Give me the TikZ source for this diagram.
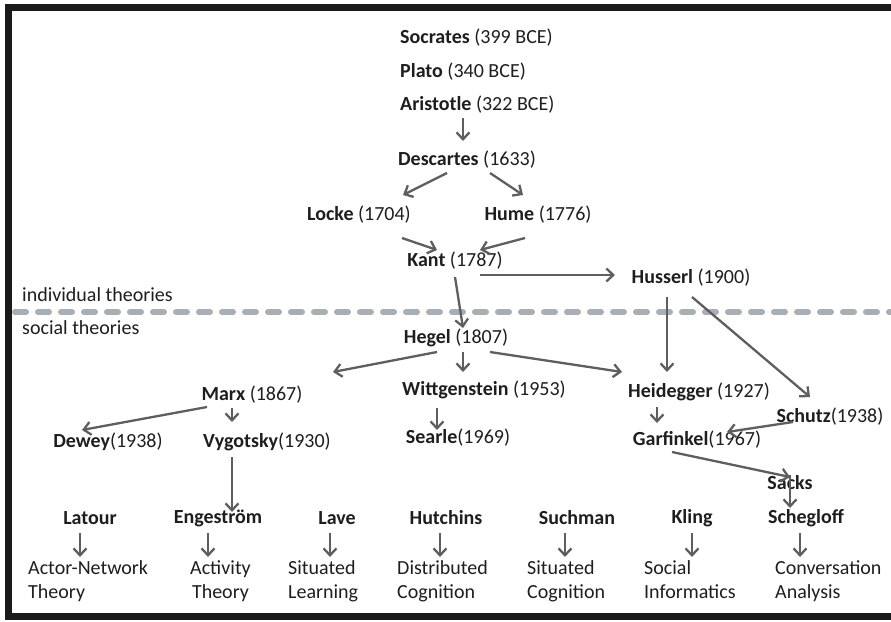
\documentclass[tikz,border=0pt]{standalone}
\usepackage{fontspec}
\setmainfont{Carlito}
\usetikzlibrary{arrows.meta}
\definecolor{txt}{HTML}{1E1E1E}
\definecolor{arrc}{HTML}{5E5E5E}
\definecolor{dashc}{HTML}{A8AEB3}
\definecolor{framec}{HTML}{1A1A1A}
\begin{document}
\begin{tikzpicture}[x=1pt,y=-1pt,
  lbl/.style={inner sep=0pt, text=txt, font=\fontsize{20}{24}\selectfont},
  arr/.style={draw=arrc, line width=2.3pt, -{Straight Barb[length=7pt,width=13pt]}},
  theo/.style={lbl, anchor=west, align=left}]
\useasboundingbox (0,0) rectangle (891,621);
\fill[white] (0,0) rectangle (891,621);
\draw[framec, line width=7pt] (8,7.5) rectangle (905,616);
% separator
\draw[dashc, line width=6pt, line cap=round, dash pattern=on 11pt off 12pt] (15,312) -- (891,312);
\node[lbl, anchor=west] (indiv) at (22,295) {individual theories};
\node[lbl, anchor=west] (social) at (22,328) {social theories};
% philosophers
\node[lbl, anchor=west] (soc) at (400,38) {\textbf{Socrates} (399 BCE)};
\node[lbl, anchor=west] (plato) at (400,72) {\textbf{Plato} (340 BCE)};
\node[lbl, anchor=west] (arist) at (400,105) {\textbf{Aristotle} (322 BCE)};
\node[lbl] (desc) at (467,160) {\textbf{Descartes} (1633)};
\node[lbl] (locke) at (359,215) {\textbf{Locke} (1704)};
\node[lbl] (hume) at (538,215) {\textbf{Hume} (1776)};
\node[lbl] (kant) at (455,261) {\textbf{Kant} (1787)};
\node[lbl] (huss) at (691,278) {\textbf{Husserl} (1900)};
\node[lbl] (hegel) at (456,338) {\textbf{Hegel} (1807)};
\node[lbl] (marx) at (252,395) {\textbf{Marx} (1867)};
\node[lbl] (witt) at (484,390) {\textbf{Wittgenstein} (1953)};
\node[lbl] (heid) at (699,392) {\textbf{Heidegger} (1927)};
\node[lbl] (dewey) at (108,442) {\textbf{Dewey}(1938)};
\node[lbl] (vyg) at (267,442) {\textbf{Vygotsky}(1930)};
\node[lbl] (searle) at (458,438) {\textbf{Searle}(1969)};
\node[lbl] (schutz) at (830,417) {\textbf{Schutz}(1938)};
\node[lbl] (garf) at (697,440) {\textbf{Garfinkel}(1967)};
\node[lbl] (sacks) at (790,483) {\textbf{Sacks}};
% bottom row
\node[lbl] (latour) at (90,518) {\textbf{Latour}};
\node[lbl] (enge) at (218,518) {\textbf{Engeström}};
\node[lbl] (lave) at (337,518) {\textbf{Lave}};
\node[lbl] (hutch) at (446,518) {\textbf{Hutchins}};
\node[lbl] (such) at (577,518) {\textbf{Suchman}};
\node[lbl] (kling) at (692,518) {\textbf{Kling}};
\node[lbl] (scheg) at (806,518) {\textbf{Schegloff}};
\node[theo] (ant) at (28,582) {\strut Actor-Network\\Theory\strut};
\node[theo, align=center] (act) at (190,582) {\strut Activity\\Theory\strut};
\node[theo] (sl) at (288,582) {\strut Situated\\Learning\strut};
\node[theo] (dc) at (397,582) {\strut Distributed\\Cognition\strut};
\node[theo] (sc) at (527,582) {\strut Situated\\Cognition\strut};
\node[theo] (si) at (644,582) {\strut Social\\Informatics\strut};
\node[theo] (ca) at (775,582) {\strut Conversation\\Analysis\strut};
% connectors
\draw[arr] ([shift={(63,13)}]arist.west) -- ([shift={(-4,-19)}]desc.center);
\draw[arr] ([shift={(-20,13)}]desc.center) -- ([shift={(44,-20)}]locke.center);
\draw[arr] ([shift={(23,13)}]desc.center) -- ([shift={(-15,-20)}]hume.center);
\draw[arr] ([shift={(43,23)}]locke.center) -- ([shift={(-18,-11)}]kant.center);
\draw[arr] ([shift={(-13,23)}]hume.center) -- ([shift={(25,-11)}]kant.center);
\draw[arr] ([shift={(25,14)}]kant.center) -- ([shift={(-76,-3)}]huss.center);
\draw[arr] ([shift={(0,16)}]kant.center) -- ([shift={(7,-10)}]hegel.center);
\draw[arr] ([shift={(-19,14)}]hegel.center) -- ([shift={(81,-23)}]marx.center);
\draw[arr] ([shift={(7,14)}]hegel.center) -- ([shift={(-21,-18)}]witt.center);
\draw[arr] ([shift={(34,14)}]hegel.center) -- ([shift={(-77,-20)}]heid.center);
\draw[arr] ([shift={(-47,18)}]witt.center) -- ([shift={(-21,-8)}]searle.center);
\draw[arr] ([shift={(-24,19)}]huss.center) -- ([shift={(-32,-20)}]heid.center);
\draw[arr] ([shift={(1,19)}]huss.center) -- ([shift={(-20,-20)}]schutz.center);
\draw[arr] ([shift={(-45,12)}]marx.center) -- ([shift={(-26,-12)}]dewey.center);
\draw[arr] ([shift={(-20,13)}]marx.center) -- ([shift={(-35,-20)}]vyg.center);
\draw[arr] ([shift={(-35,15)}]vyg.center) -- ([shift={(14,-6)}]enge.center);
\draw[arr] ([shift={(-42,15)}]heid.center) -- ([shift={(-40,-17)}]garf.center);
\draw[arr] ([shift={(-37,5)}]schutz.center) -- ([shift={(30,-8)}]garf.center);
\draw[arr] ([shift={(-25,12)}]garf.center) -- ([shift={(0,-6)}]sacks.center);
\draw[arr] ([shift={(0,-8)}]sacks.center) -- ([shift={(-16,-10)}]scheg.center);
\draw[arr] ([shift={(-10,15)}]latour.center) -- ([shift={(52,-25)}]ant.west);
\draw[arr] ([shift={(-10,15)}]enge.center) -- ([shift={(18,-25)}]act.west);
\draw[arr] ([shift={(-7,15)}]lave.center) -- ([shift={(42,-25)}]sl.west);
\draw[arr] ([shift={(-6,15)}]hutch.center) -- ([shift={(43,-25)}]dc.west);
\draw[arr] ([shift={(-12,15)}]such.center) -- ([shift={(38,-25)}]sc.west);
\draw[arr] ([shift={(0,15)}]kling.center) -- ([shift={(48,-25)}]si.west);
\draw[arr] ([shift={(-6,15)}]scheg.center) -- ([shift={(25,-25)}]ca.west);
\end{tikzpicture}
\end{document}
